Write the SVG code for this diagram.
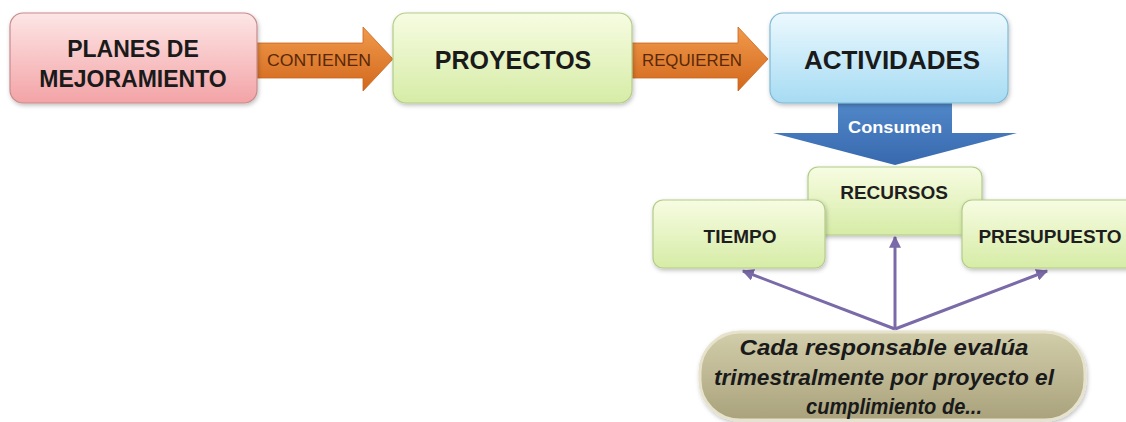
<svg xmlns="http://www.w3.org/2000/svg" width="1126" height="422" viewBox="0 0 1126 422">
<defs>
<linearGradient id="gPink" x1="0" y1="0" x2="0" y2="1"><stop offset="0" stop-color="#fde6e6"/><stop offset="1" stop-color="#f3a3a6"/></linearGradient>
<linearGradient id="gGreen" x1="0" y1="0" x2="0" y2="1"><stop offset="0" stop-color="#f7fce2"/><stop offset="1" stop-color="#d6eca6"/></linearGradient>
<linearGradient id="gBlue" x1="0" y1="0" x2="0" y2="1"><stop offset="0" stop-color="#ecf9fe"/><stop offset="1" stop-color="#a6dbf3"/></linearGradient>
<linearGradient id="gOrange" x1="0" y1="0" x2="0" y2="1"><stop offset="0" stop-color="#f19a4c"/><stop offset="1" stop-color="#d2681c"/></linearGradient>
<linearGradient id="gDown" x1="0" y1="0" x2="0" y2="1"><stop offset="0" stop-color="#5088c8"/><stop offset="1" stop-color="#3868ae"/></linearGradient>
<linearGradient id="gTan" x1="0" y1="0" x2="0" y2="1"><stop offset="0" stop-color="#d2cdaa"/><stop offset="1" stop-color="#a9a27c"/></linearGradient>
<filter id="sh" x="-10%" y="-10%" width="120%" height="130%"><feDropShadow dx="1" dy="2" stdDeviation="2" flood-color="#000" flood-opacity="0.25"/></filter>
<marker id="ah" viewBox="0 0 10 10" refX="9" refY="5" markerWidth="4" markerHeight="4" orient="auto"><path d="M0,0 L10,5 L0,10 z" fill="#7a6aa8"/></marker>
</defs>
<style>
.box{stroke-width:1.2;filter:url(#sh)}
.big{font-family:"Liberation Sans",Arial,sans-serif;font-weight:bold;fill:#1a1a1a;text-anchor:middle}
.arrtxt{font-family:"Liberation Sans",Arial,sans-serif;fill:#5a2808;text-anchor:middle;font-size:16px}
.lbl{font-family:"Liberation Sans",Arial,sans-serif;font-weight:bold;fill:#1e1e1e;text-anchor:middle;font-size:19px}
.note{font-family:"Liberation Sans",Arial,sans-serif;font-weight:bold;font-style:italic;fill:#1a1a1a;text-anchor:middle;font-size:22px}
.conn{stroke:#7a6aa8;stroke-width:3;fill:none;marker-end:url(#ah)}
</style>
<rect width="1126" height="422" fill="#ffffff"/>

<g id="connectors">
<g id="arrow-contienen">
<path d="M257,43 L363,43 L363,27 L393,59 L363,91 L363,78 L257,78 z" fill="url(#gOrange)" stroke="#c8661e" stroke-width="0.8"/>
<text class="arrtxt" x="319" y="66" textLength="104" lengthAdjust="spacingAndGlyphs">CONTIENEN</text>
</g>
<g id="arrow-requieren">
<path d="M632,43 L738,43 L738,27 L768,59 L738,91 L738,78 L632,78 z" fill="url(#gOrange)" stroke="#c8661e" stroke-width="0.8"/>
<text class="arrtxt" x="692" y="66" textLength="100" lengthAdjust="spacingAndGlyphs">REQUIEREN</text>
</g>
<g id="arrow-consumen">
<path d="M838,103 L952,103 L952,133 L1017,133 L895,165 L773,133 L838,133 z" fill="url(#gDown)"/>
<text x="895" y="133" font-family="Liberation Sans, Arial, sans-serif" font-weight="bold" font-size="16" fill="#ffffff" text-anchor="middle" textLength="94" lengthAdjust="spacingAndGlyphs">Consumen</text>
</g>
<line class="conn" x1="895" y1="329" x2="743" y2="271"/>
<line class="conn" x1="895" y1="329" x2="895" y2="237"/>
<line class="conn" x1="895" y1="329" x2="1047" y2="271"/>
</g>

<g id="node-planes">
<rect class="box" x="10" y="13" width="247" height="90" rx="13" fill="url(#gPink)" stroke="#c98a8c"/>
<text class="big" x="133" y="57" font-size="23">PLANES DE</text>
<text class="big" x="133" y="87" font-size="23">MEJORAMIENTO</text>
</g>

<g id="node-proyectos">
<rect class="box" x="393" y="13" width="239" height="90" rx="13" fill="url(#gGreen)" stroke="#b4cc88"/>
<text class="big" x="513" y="69" font-size="25">PROYECTOS</text>
</g>

<g id="node-actividades">
<rect class="box" x="770" y="13" width="238" height="90" rx="13" fill="url(#gBlue)" stroke="#7fb9d6"/>
<text class="big" x="892" y="69" font-size="26">ACTIVIDADES</text>
</g>

<g id="node-recursos">
<rect class="box" x="808" y="167" width="174" height="68" rx="10" fill="url(#gGreen)" stroke="#b4cc88"/>
<text class="lbl" x="894" y="199">RECURSOS</text>
</g>

<g id="node-tiempo">
<rect class="box" x="653" y="200" width="172" height="68" rx="10" fill="url(#gGreen)" stroke="#b4cc88"/>
<text class="lbl" x="740" y="243">TIEMPO</text>
</g>

<g id="node-presupuesto">
<rect class="box" x="962" y="200" width="180" height="68" rx="10" fill="url(#gGreen)" stroke="#b4cc88"/>
<text class="lbl" x="1050" y="243">PRESUPUESTO</text>
</g>

<g id="node-evalua">
<rect x="700" y="332" width="385" height="88" rx="40" fill="url(#gTan)" stroke="#e6e2cc" stroke-width="3" filter="url(#sh)"/>
<text class="note" x="884" y="355" textLength="289" lengthAdjust="spacingAndGlyphs">Cada responsable evalúa</text>
<text class="note" x="884" y="385" textLength="340" lengthAdjust="spacingAndGlyphs">trimestralmente por proyecto el</text>
<text class="note" x="894" y="414" textLength="176" lengthAdjust="spacingAndGlyphs">cumplimiento de...</text>
</g>
</svg>
